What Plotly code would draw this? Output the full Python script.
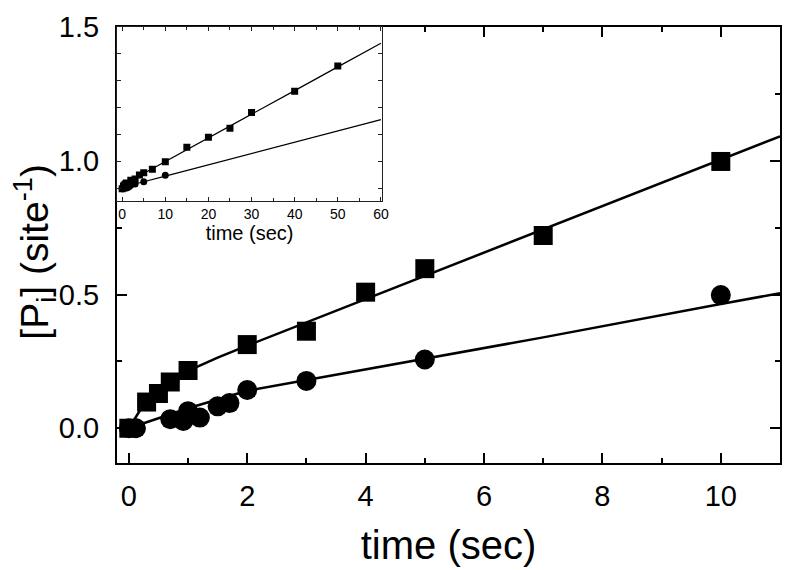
import plotly.graph_objects as go

# ---- data ----
sq_t = [0, 0.3, 0.5, 0.7, 1.0, 2, 3, 4, 5, 7, 10]
sq_y = [0, 0.098, 0.13, 0.173, 0.216, 0.313, 0.363, 0.509, 0.597, 0.721, 0.998]
sq_t_long = [15, 20, 25, 30, 40, 50]
sq_y_long = [1.54, 1.91, 2.24, 2.83, 3.62, 4.55]

ci_t = [0, 0.12, 0.7, 0.92, 1.0, 1.2, 1.5, 1.7, 2, 3, 5, 10]
ci_y = [0, 0, 0.034, 0.027, 0.064, 0.040, 0.082, 0.094, 0.143, 0.177, 0.257, 0.498]

# fitted curves (main panel)
fit_sq_t = [0, 0.3, 0.5, 0.7, 1.0, 1.5, 2, 3, 4, 5, 7, 10, 11]
fit_sq_y = [0, 0.106, 0.148, 0.18, 0.215, 0.264, 0.309, 0.396, 0.483, 0.57, 0.744, 1.005, 1.092]
fit_ci_t = [0, 1, 2, 3, 5, 7, 10, 11]
fit_ci_y = [0, 0.075, 0.14, 0.18, 0.258, 0.34, 0.465, 0.505]

# fitted curves (inset)
ins_fit_sq_t = [0, 1, 2, 5, 10, 20, 30, 40, 50, 60]
ins_fit_sq_y = [0, 0.215, 0.309, 0.57, 1.005, 1.88, 2.76, 3.64, 4.52, 5.40]
ins_fit_ci_t = [0, 2, 5, 10, 60]
ins_fit_ci_y = [0, 0.14, 0.258, 0.465, 2.565]

main_xticks = [0, 2, 4, 6, 8, 10]
main_yticks = [0.0, 0.5, 1.0, 1.5]
main_yticklabels = ["0.0", "0.5", "1.0", "1.5"]
inset_xticks = [0, 10, 20, 30, 40, 50, 60]

FONT = "Arial, Liberation Sans, sans-serif"
BLACK = "#000000"

fig = go.Figure()

# main panel
fig.add_trace(go.Scatter(x=fit_sq_t, y=fit_sq_y, mode="lines",
                         line=dict(color=BLACK, width=2.5), showlegend=False,
                         xaxis="x", yaxis="y"))
fig.add_trace(go.Scatter(x=fit_ci_t, y=fit_ci_y, mode="lines",
                         line=dict(color=BLACK, width=2.5), showlegend=False,
                         xaxis="x", yaxis="y"))
fig.add_trace(go.Scatter(x=sq_t, y=sq_y, mode="markers",
                         marker=dict(symbol="square", size=19, color=BLACK),
                         showlegend=False, xaxis="x", yaxis="y"))
fig.add_trace(go.Scatter(x=ci_t, y=ci_y, mode="markers",
                         marker=dict(symbol="circle", size=20, color=BLACK),
                         showlegend=False, xaxis="x", yaxis="y"))

# inset panel
fig.add_trace(go.Scatter(x=ins_fit_sq_t, y=ins_fit_sq_y, mode="lines",
                         line=dict(color=BLACK, width=1.2), showlegend=False,
                         xaxis="x2", yaxis="y2"))
fig.add_trace(go.Scatter(x=ins_fit_ci_t, y=ins_fit_ci_y, mode="lines",
                         line=dict(color=BLACK, width=1.2), showlegend=False,
                         xaxis="x2", yaxis="y2"))
fig.add_trace(go.Scatter(x=sq_t + sq_t_long, y=sq_y + sq_y_long, mode="markers",
                         marker=dict(symbol="square", size=7, color=BLACK),
                         showlegend=False, xaxis="x2", yaxis="y2"))
fig.add_trace(go.Scatter(x=ci_t, y=ci_y, mode="markers",
                         marker=dict(symbol="circle", size=7, color=BLACK),
                         showlegend=False, xaxis="x2", yaxis="y2"))

fig.update_layout(
    width=782, height=562,
    margin=dict(l=109, r=3, t=8, b=107),
    paper_bgcolor="white", plot_bgcolor="white",
    font=dict(family=FONT, color=BLACK),
    xaxis=dict(
        domain=[0, 1], range=[-0.2, 11], tickvals=main_xticks,
        ticks="inside", ticklen=10, tickwidth=2, tickcolor=BLACK,
        minor=dict(ticks="inside", ticklen=5, tickwidth=2, dtick=1, tickcolor=BLACK, tick0=0),
        showline=True, linecolor=BLACK, linewidth=2, mirror="allticks",
        showgrid=False, zeroline=False,
        tickfont=dict(size=29, family=FONT), ticklabelstandoff=6,
        ticklabeloverflow="allow",
        title=dict(text="time (sec)", font=dict(size=40, family=FONT), standoff=20),
    ),
    yaxis=dict(
        domain=[0, 1], range=[-0.13, 1.501], tickvals=main_yticks, ticktext=main_yticklabels,
        ticks="inside", ticklen=10, tickwidth=2, tickcolor=BLACK,
        minor=dict(ticks="inside", ticklen=5, tickwidth=2, dtick=0.25, tickcolor=BLACK, tick0=0),
        showline=True, linecolor=BLACK, linewidth=2, mirror="allticks",
        showgrid=False, zeroline=False,
        tickfont=dict(size=29, family=FONT), ticklabelstandoff=10,
        ticklabeloverflow="allow",
    ),
    xaxis2=dict(
        domain=[0, 0.4], anchor="y2", range=[-1.2, 60.3], tickvals=inset_xticks,
        ticks="inside", ticklen=4, tickwidth=1, tickcolor="#222222",
        minor=dict(ticks="inside", ticklen=3, tickwidth=1, dtick=5, tickcolor="#222222", tick0=0),
        showline=True, linecolor="#222222", linewidth=1, mirror="allticks",
        showgrid=False, zeroline=False,
        tickfont=dict(size=14, family=FONT),
        title=dict(text="time (sec)", font=dict(size=20, family=FONT), standoff=0),
    ),
    yaxis2=dict(
        domain=[0.6, 1], anchor="x2", range=[-0.47, 6.0], dtick=1, tick0=0,
        ticks="inside", ticklen=4, tickwidth=1, tickcolor="#222222",
        showticklabels=False,
        showline=True, linecolor="#222222", linewidth=1, mirror="allticks",
        showgrid=False, zeroline=False,
    ),
    annotations=[dict(
        text="[P<sub>i</sub>] (site<sup>-1</sup>)", textangle=-90,
        xref="paper", yref="paper", x=-0.125, y=0.485,
        xanchor="center", yanchor="middle", showarrow=False,
        font=dict(size=39, family=FONT, color=BLACK),
    )],
)

fig.write_html("out.html")
